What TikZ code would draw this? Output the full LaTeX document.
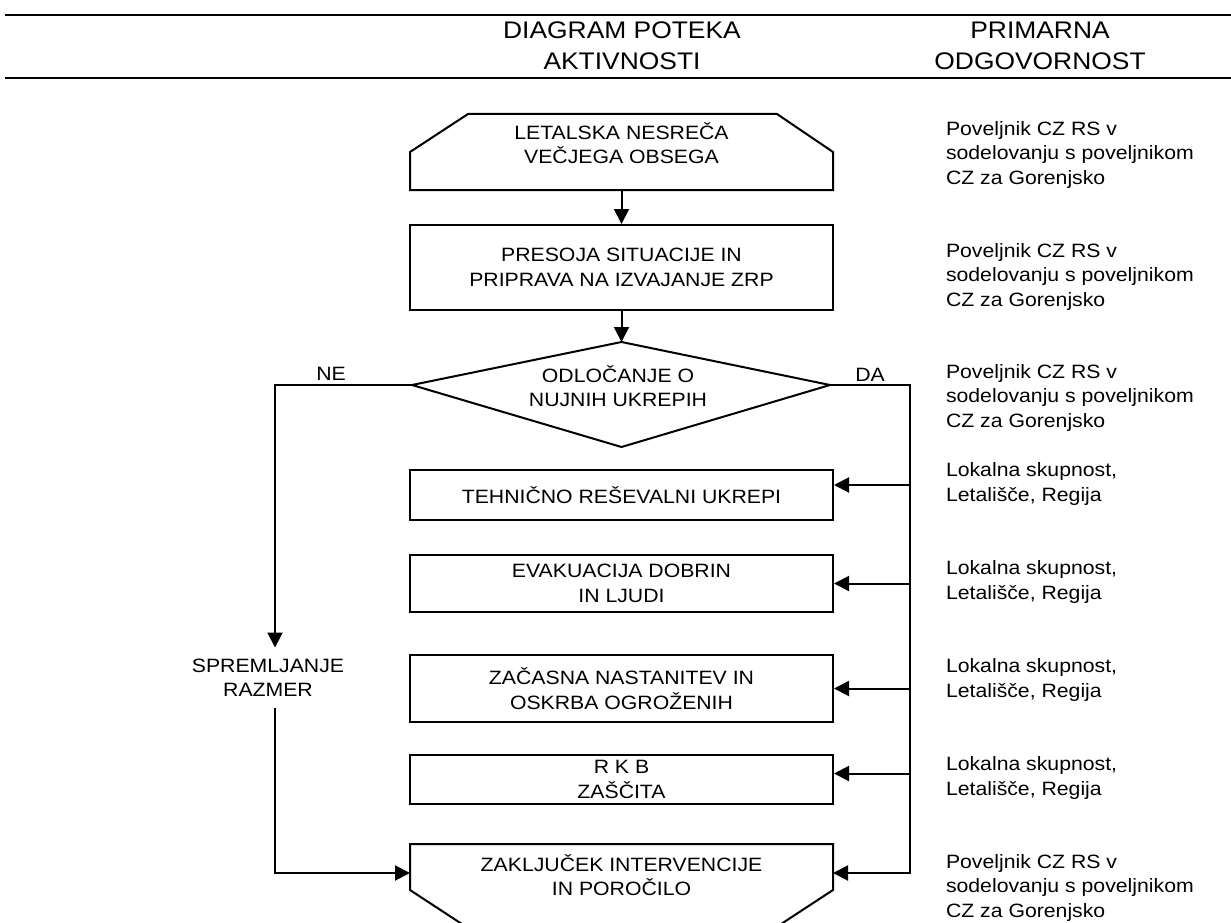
\documentclass[tikz,border=0pt]{standalone}
\usepackage{fontspec}
\setmainfont{Liberation Sans}[FakeStretch=1.1]
\usetikzlibrary{arrows.meta}

\newcommand{\poveljnik}{Poveljnik CZ RS v\\sodelovanju s poveljnikom\\CZ za Gorenjsko}
\newcommand{\lokalna}{Lokalna skupnost,\\Letališče, Regija}

\begin{document}
\begin{tikzpicture}[x=1pt,y=-1pt,line width=2pt,
    box/.style={draw, minimum width=423pt, align=center, inner sep=0pt,
      font=\fontsize{19.3}{24.5}\selectfont},
    txt/.style={align=center, inner sep=0pt, font=\fontsize{19.3}{24.5}\selectfont},
    odg/.style={anchor=west, align=left, inner sep=0pt, font=\fontsize{19.3}{24.5}\selectfont},
    glava/.style={align=center, inner sep=0pt, font=\fontsize{24}{31}\selectfont},
    arr/.style={-{Triangle[length=15pt,width=15pt]}}]
\useasboundingbox (0,0) rectangle (1231,923);

% glava
\draw[line width=2.8pt] (5,15) -- (1231,15);
\draw[line width=2.8pt] (5,78) -- (1231,78);
\node[glava] (diagram) at (622,46) {DIAGRAM POTEKA\\AKTIVNOSTI};
\node[glava] (odgovornost) at (1040,46) {PRIMARNA\\ODGOVORNOST};

% potek aktivnosti
\node[txt] (nesreca) at (621.5,143) {LETALSKA NESREČA\\VEČJEGA OBSEGA};
\draw (410,190) -- (410,152) -- (468,114) -- (777,114) -- (833,152) -- (833,190) -- cycle;
\coordinate (nesreca-s) at (621.5,190);

\node[box, minimum height=85pt] (presoja) at (621.5,267.5) {PRESOJA SITUACIJE IN\\PRIPRAVA NA IZVAJANJE ZRP};

\coordinate (odl-n) at (621.5,342);
\coordinate (odl-e) at (830,385);
\coordinate (odl-s) at (621.5,447);
\coordinate (odl-w) at (412,385);
\draw (odl-n) -- (odl-e) -- (odl-s) -- (odl-w) -- cycle;
\node[txt] (odlocanje) at (618,386) {ODLOČANJE O\\NUJNIH UKREPIH};

\node[box, minimum height=50pt] (tehnicno) at (621.5,495) {TEHNIČNO REŠEVALNI UKREPI};
\node[box, minimum height=57pt] (evakuacija) at (621.5,583.5) {EVAKUACIJA DOBRIN\\IN LJUDI};
\node[box, minimum height=67pt] (zacasna) at (621.5,688.5) {ZAČASNA NASTANITEV IN\\OSKRBA OGROŽENIH};
\node[box, minimum height=49pt] (rkb) at (621.5,779.5) {R K B\\ZAŠČITA};

\node[txt] (zakljucek) at (621.5,875) {ZAKLJUČEK INTERVENCIJE\\IN POROČILO};
\draw (410,890) -- (410,844) -- (833,844) -- (833,890) -- (775,928) -- (468,928) -- cycle;
\coordinate (zakljucek-w) at (410,873);
\coordinate (zakljucek-e) at (833,873);

\node[txt, inner ysep=10.5pt] (spremljanje) at (268,678) {SPREMLJANJE\\RAZMER};

% povezave
\draw[arr] (nesreca-s) -- (presoja);
\draw[arr] (presoja) -- (odl-n);

\coordinate (ne) at (275,385);
\coordinate (da) at (910,385);
\node[txt] (ne-txt) at (331,374) {NE};
\node[txt] (da-txt) at (870,375) {DA};

\draw[arr] (odl-w) -- (ne) -- (ne |- spremljanje.north);
\draw[arr] (ne |- spremljanje.south) |- (zakljucek-w);

\draw[arr] (odl-e) -- (da) |- (zakljucek-e);
\foreach \n/\d in {tehnicno/10, evakuacija/0, zacasna/0, rkb/6}
  \draw[arr] ([yshift=\d pt]\n.east -| da) -- ([yshift=\d pt]\n.east);

% primarna odgovornost
\node[odg] (odg-nesreca) at (945,155) {\poveljnik};
\node[odg] (odg-presoja) at (945,277) {\poveljnik};
\node[odg] (odg-odlocanje) at (945,398) {\poveljnik};
\node[odg] (odg-tehnicno) at (945,484) {\lokalna};
\node[odg] (odg-evakuacija) at (945,582) {\lokalna};
\node[odg] (odg-zacasna) at (945,680) {\lokalna};
\node[odg] (odg-rkb) at (945,778) {\lokalna};
\node[odg] (odg-zakljucek) at (945,888) {\poveljnik};
\end{tikzpicture}
\end{document}
